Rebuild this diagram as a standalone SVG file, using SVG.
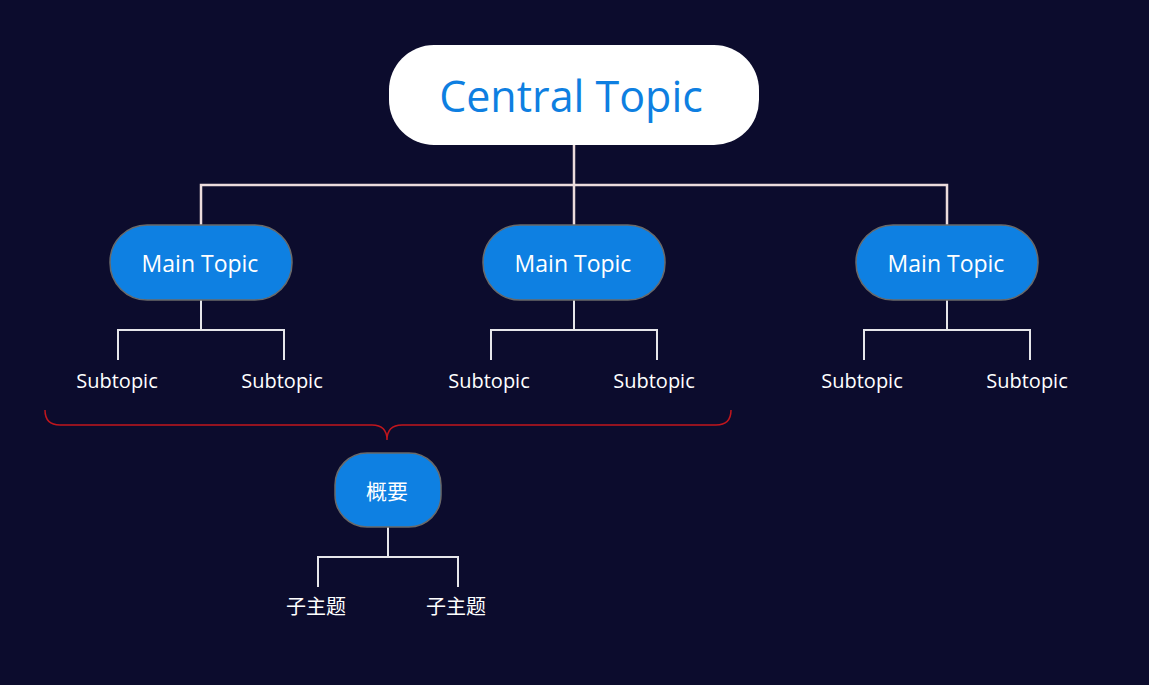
<svg xmlns="http://www.w3.org/2000/svg" width="1149" height="685" viewBox="0 0 1149 685">
<style>
.main{fill:#0e80e2;stroke:#6a6a6a;stroke-width:1.5}
.mt{font-family:"Open Sans","Noto Sans",sans-serif;font-size:23px;fill:#ffffff;text-anchor:middle}
.st{font-family:"Open Sans","Noto Sans",sans-serif;font-size:20px;fill:#ffffff;text-anchor:middle}
.cjk{font-family:"Noto Sans CJK SC",sans-serif;font-size:20px;fill:#ffffff;text-anchor:middle}
.c1{fill:none;stroke:#ecdcdc;stroke-width:2.5}
.c2{fill:none;stroke:#e6e6ea;stroke-width:2}
</style>
<rect width="1149" height="685" fill="#0c0c2d"/>
<g id="connectors">
<path class="c1" d="M574 145 V185 M201 225 V185 H947 V225 M574 185 V225"/>
<path class="c2" d="M201 300 V330 M118 360 V330 H284 V360"/>
<path class="c2" d="M574 300 V330 M491 360 V330 H657 V360"/>
<path class="c2" d="M947 300 V330 M864 360 V330 H1030 V360"/>
<path class="c2" d="M388 527 V557 M318 587 V557 H458 V587"/>
<path fill="none" stroke="#c1161d" stroke-width="1.5" d="M45 410 Q45 425 60 425 H372 Q387 425 387 440 Q387 425 402 425 H716 Q731 425 731 410"/>
</g>
<g id="central">
<rect x="389" y="45" width="370" height="100" rx="45" fill="#ffffff"/>
<text x="571" y="112" font-family="'Open Sans','Noto Sans',sans-serif" font-size="43" fill="#0e7fe1" text-anchor="middle">Central Topic</text>
</g>
<g id="main1"><rect class="main" x="110" y="225" width="182" height="75" rx="37"/><text class="mt" x="200" y="272">Main Topic</text></g>
<g id="main2"><rect class="main" x="483" y="225" width="182" height="75" rx="37"/><text class="mt" x="573" y="272">Main Topic</text></g>
<g id="main3"><rect class="main" x="856" y="225" width="182" height="75" rx="37"/><text class="mt" x="946" y="272">Main Topic</text></g>
<g id="sub1"><text class="st" x="117" y="388">Subtopic</text></g>
<g id="sub2"><text class="st" x="282" y="388">Subtopic</text></g>
<g id="sub3"><text class="st" x="489" y="388">Subtopic</text></g>
<g id="sub4"><text class="st" x="654" y="388">Subtopic</text></g>
<g id="sub5"><text class="st" x="862" y="388">Subtopic</text></g>
<g id="sub6"><text class="st" x="1027" y="388">Subtopic</text></g>
<g id="summary"><rect class="main" x="335" y="453" width="106" height="74" rx="32"/><text class="cjk" x="387" y="499" style="font-size:21px">概要</text></g>
<g id="sum-sub1"><text class="cjk" x="316" y="614">子主题</text></g>
<g id="sum-sub2"><text class="cjk" x="456" y="614">子主题</text></g>
</svg>
